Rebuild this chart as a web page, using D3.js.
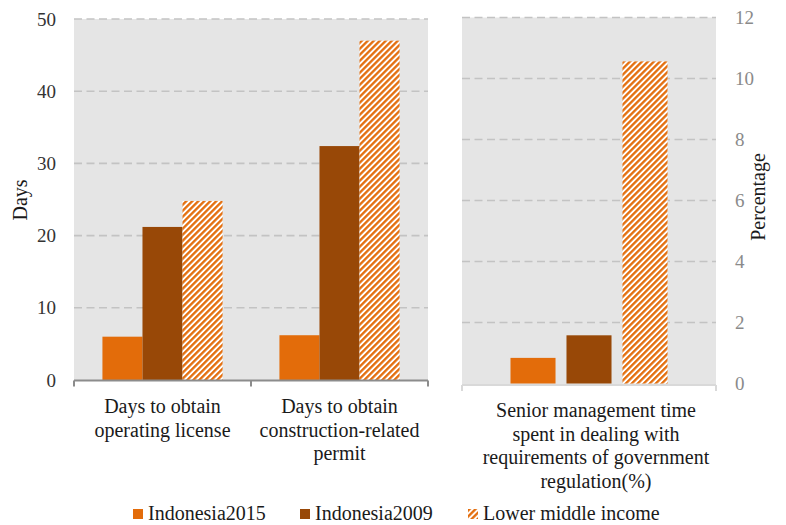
<!DOCTYPE html>
<html>
<head>
<meta charset="utf-8">
<script src="https://cdnjs.cloudflare.com/ajax/libs/d3/7.8.5/d3.min.js"></script>
<style>
  body { margin: 0; background: #fff; }
</style>
</head>
<body>
<div id="chart"></div>
<script>
(function() {

  var series = ['Indonesia2015', 'Indonesia2009', 'Lower middle income'];

  var daysCategories = [
    ['Days to obtain', 'operating license'],
    ['Days to obtain', 'construction-related', 'permit']
  ];
  var days2015 = [6.0, 6.2];
  var days2009 = [21.2, 32.4];
  var daysLMI = [24.8, 47.0];
  var daysTicks = [0, 10, 20, 30, 40, 50];

  var timeCategory = ['Senior management time', 'spent in dealing with', 'requirements of government', 'regulation(%)'];
  var time2015 = [0.84];
  var time2009 = [1.58];
  var timeLMI = [10.56];
  var pctTicks = [0, 2, 4, 6, 8, 10, 12];

  var colors = {
    'Indonesia2015': '#e36c0a',
    'Indonesia2009': '#984807',
    'Lower middle income': 'url(#hatch)'
  };

  var font = "'Liberation Serif', 'Times New Roman', 'DejaVu Serif', serif";
  var width = 786, height = 525;

  var svg = d3.select('#chart').append('svg')
      .attr('width', width)
      .attr('height', height)
      .attr('font-family', font);

  // diagonal hatch for the comparison group
  var pattern = svg.append('defs').append('pattern')
      .attr('id', 'hatch')
      .attr('patternUnits', 'userSpaceOnUse')
      .attr('width', 4.24)
      .attr('height', 4.24)
      .attr('patternTransform', 'rotate(45)');
  pattern.append('rect')
      .attr('width', 4.24).attr('height', 4.24).attr('fill', '#fff');
  pattern.append('rect')
      .attr('width', 2.3).attr('height', 4.24).attr('fill', '#e36c0a');

  function rows(cats, a, b, c) {
    return cats.map(function(cat, i) {
      return { key: i, cat: cat, values: [a[i], b[i], c[i]] };
    });
  }

  function drawPanel(opts) {
    var g = svg.append('g');

    var x0 = d3.scaleBand()
        .domain(opts.data.map(function(d) { return d.key; }))
        .range([opts.left, opts.right]);

    var x1 = d3.scaleBand()
        .domain(series)
        .range([0, x0.bandwidth()])
        .paddingInner(opts.innerPad)
        .paddingOuter(opts.outerPad);

    var y = d3.scaleLinear()
        .domain(opts.domain)
        .range([opts.bottom, opts.top]);

    g.append('rect')
        .attr('x', opts.left)
        .attr('y', opts.top)
        .attr('width', opts.right - opts.left)
        .attr('height', opts.bgBottom - opts.top)
        .attr('fill', '#e5e5e5');

    g.append('g')
        .selectAll('line')
        .data(opts.ticks.filter(function(t) { return t > 0; }))
      .enter().append('line')
        .attr('x1', opts.left)
        .attr('x2', opts.right)
        .attr('y1', function(d) { return y(d); })
        .attr('y2', function(d) { return y(d); })
        .attr('stroke', '#c3c3c3')
        .attr('stroke-width', 1.6)
        .attr('stroke-dasharray', '8,4.5');

    var groups = g.selectAll('.grp')
        .data(opts.data)
      .enter().append('g')
        .attr('class', 'grp')
        .attr('transform', function(d) { return 'translate(' + x0(d.key) + ',0)'; });

    groups.selectAll('rect')
        .data(function(d) {
          return series.map(function(s, i) { return { s: s, v: d.values[i] }; });
        })
      .enter().append('rect')
        .attr('x', function(d) { return x1(d.s); })
        .attr('width', x1.bandwidth())
        .attr('y', function(d) { return y(d.v); })
        .attr('height', function(d) { return y(0) - y(d.v); })
        .attr('fill', function(d) { return colors[d.s]; });

    // baseline with category dividers
    var edges = [opts.left].concat(opts.data.map(function(d) { return x0(d.key) + x0.bandwidth(); }));
    g.append('line')
        .attr('x1', opts.left).attr('x2', opts.right)
        .attr('y1', opts.axisY).attr('y2', opts.axisY)
        .attr('stroke', opts.axisColor)
        .attr('stroke-width', 2);
    g.selectAll('.tk')
        .data(edges)
      .enter().append('line')
        .attr('x1', function(d) { return d; })
        .attr('x2', function(d) { return d; })
        .attr('y1', opts.axisY)
        .attr('y2', opts.axisY + 6)
        .attr('stroke', opts.axisColor)
        .attr('stroke-width', 2);

    // value axis labels
    g.append('g')
        .selectAll('text')
        .data(opts.ticks)
      .enter().append('text')
        .attr('x', opts.tickX)
        .attr('y', function(d) { return y(d); })
        .attr('dy', '0.35em')
        .attr('text-anchor', opts.tickAnchor)
        .attr('font-size', 19)
        .attr('fill', opts.tickColor)
        .text(function(d) { return d; });

    // category labels
    var labels = g.selectAll('.cat')
        .data(opts.data)
      .enter().append('text')
        .attr('class', 'cat')
        .attr('text-anchor', 'middle')
        .attr('font-size', 20)
        .attr('fill', '#1a1a1a');
    labels.selectAll('tspan')
        .data(function(d) { return d.cat.map(function(l) { return { line: l, x: x0(d.key) + x0.bandwidth() / 2 + opts.labelShift }; }); })
      .enter().append('tspan')
        .attr('x', function(d) { return d.x; })
        .attr('y', function(d, i) { return opts.labelY + i * 23.5; })
        .text(function(d) { return d.line; });

    return y;
  }

  drawPanel({
    data: rows(daysCategories, days2015, days2009, daysLMI),
    left: 74, right: 428, top: 19, bottom: 380, bgBottom: 380, axisY: 380.5,
    domain: [0, 50], ticks: daysTicks,
    innerPad: 0, outerPad: 0.71,
    axisColor: '#8c8c8c',
    tickX: 56, tickAnchor: 'end', tickColor: '#333',
    labelY: 413, labelShift: 0
  });

  drawPanel({
    data: rows([timeCategory], time2015, time2009, timeLMI),
    left: 462, right: 716, top: 17.5, bottom: 383.5, bgBottom: 384, axisY: 385,
    domain: [0, 12], ticks: pctTicks,
    innerPad: 0.196, outerPad: 0.866,
    axisColor: '#d9d9d9',
    tickX: 735, tickAnchor: 'start', tickColor: '#8a8a8a',
    labelY: 417, labelShift: 7
  });

  // axis titles
  svg.append('text')
      .attr('transform', 'translate(27,200) rotate(-90)')
      .attr('text-anchor', 'middle')
      .attr('font-size', 20)
      .attr('fill', '#1a1a1a')
      .text('Days');

  svg.append('text')
      .attr('transform', 'translate(765,197) rotate(-90)')
      .attr('text-anchor', 'middle')
      .attr('font-size', 20)
      .attr('fill', '#1a1a1a')
      .text('Percentage');

  // legend
  var legendX = [133, 300, 468];
  var legend = svg.append('g')
      .selectAll('g')
      .data(series)
    .enter().append('g')
      .attr('transform', function(d, i) { return 'translate(' + legendX[i] + ',509)'; });

  legend.append('rect')
      .attr('width', 10)
      .attr('height', 10)
      .attr('fill', function(d) { return colors[d]; });

  legend.append('text')
      .attr('x', 15)
      .attr('y', 10.5)
      .attr('font-size', 20)
      .attr('fill', '#1a1a1a')
      .text(function(d) { return d; });

})()
</script>
</body>
</html>
